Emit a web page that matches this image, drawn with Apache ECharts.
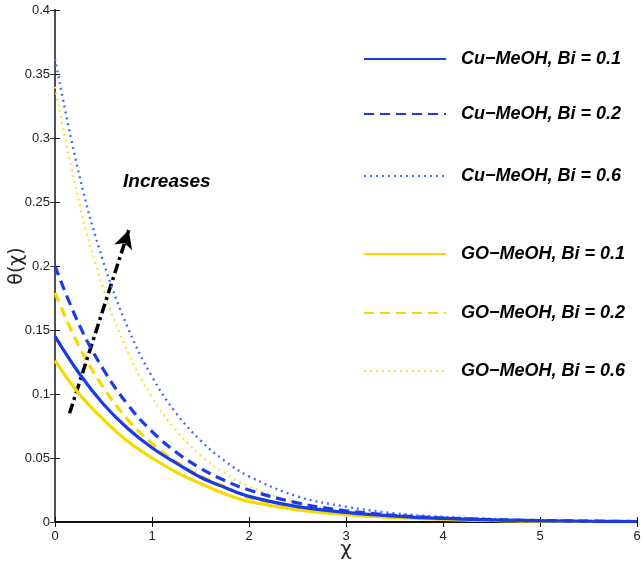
<!DOCTYPE html>
<html>
<head>
<meta charset="utf-8">
<script src="https://cdn.jsdelivr.net/npm/echarts@6/dist/echarts.min.js"></script>
<style>html,body{margin:0;padding:0;background:#fff;}#c{width:644px;height:574px;}</style>
</head>
<body>
<div id="c"></div>
<script>
var xs = [0, 0.25, 0.5, 0.75, 1, 1.25, 1.5, 1.75, 2, 2.5, 3, 3.5, 4, 4.5, 5, 5.5, 6];
var cuBi01 = [0.145, 0.116, 0.092, 0.073, 0.058, 0.046, 0.035, 0.027, 0.020, 0.012, 0.0075, 0.0046, 0.0028, 0.0017, 0.0010, 0.0006, 0.0004];
var cuBi02 = [0.200, 0.154, 0.119, 0.0917, 0.0707, 0.0545, 0.042, 0.0324, 0.025, 0.0149, 0.0088, 0.0052, 0.0031, 0.0019, 0.0011, 0.0007, 0.0004];
var cuBi06 = [0.362, 0.271, 0.203, 0.152, 0.1135, 0.085, 0.0637, 0.0477, 0.0357, 0.020, 0.012, 0.0068, 0.0040, 0.0024, 0.0014, 0.0009, 0.0005];
var goBi01 = [0.126, 0.100, 0.080, 0.063, 0.050, 0.039, 0.030, 0.022, 0.016, 0.0095, 0.0058, 0.0035, 0.0020, 0.0012, 0.0007, 0.0004, 0.0002];
var goBi02 = [0.179, 0.137, 0.105, 0.080, 0.0614, 0.047, 0.036, 0.0275, 0.019, 0.011, 0.0065, 0.0038, 0.0022, 0.0013, 0.0008, 0.0005, 0.0003];
var goBi06 = [0.340, 0.249, 0.182, 0.133, 0.0974, 0.0713, 0.0521, 0.0381, 0.0279, 0.0149, 0.0080, 0.0043, 0.0023, 0.0012, 0.0007, 0.0004, 0.0002];
var names = ['Cu\u2212MeOH, Bi = 0.1', 'Cu\u2212MeOH, Bi = 0.2', 'Cu\u2212MeOH, Bi = 0.6',
             'GO\u2212MeOH, Bi = 0.1', 'GO\u2212MeOH, Bi = 0.2', 'GO\u2212MeOH, Bi = 0.6'];
var arrowStart = [0.15, 0.085];
var arrowEnd = [0.76, 0.228];
var annotation = 'Increases';

function pairs(v) { return xs.map(function (x, i) { return [x, v[i]]; }); }

var BLUE = '#1a3ce8', BLUE_L = '#4d6cf5', YEL = '#f7d900', YEL_L = '#f9e640';
var styles = [
  {color: BLUE, width: 3.2, type: 'solid'},
  {color: BLUE, width: 3.2, type: [10, 6]},
  {color: BLUE_L, width: 2.4, type: [2, 4]},
  {color: YEL, width: 3.2, type: 'solid'},
  {color: YEL, width: 3.2, type: [10, 6]},
  {color: YEL_L, width: 2.4, type: [2, 4]}
];
var datas = [cuBi01, cuBi02, cuBi06, goBi01, goBi02, goBi06];

var series = datas.map(function (d, i) {
  return {
    name: names[i], type: 'line', data: pairs(d), smooth: 0.4, symbol: 'none',
    color: styles[i].color,
    lineStyle: {color: styles[i].color, width: styles[i].width, type: styles[i].type},
    z: 3 + (5 - i)
  };
});
series.push({
  type: 'line', data: [], silent: true,
  markLine: {
    silent: true, symbol: ['none', 'arrow'], symbolSize: [14, 18],
    label: {show: false},
    lineStyle: {color: '#000', width: 3.5, type: [10, 4, 3, 4]},
    data: [[{coord: arrowStart}, {coord: arrowEnd}]]
  }
});

var legendTops = [45, 100, 162, 240, 299, 357];
var legends = names.map(function (n, i) {
  return {
    data: [n], left: 358, top: legendTops[i], orient: 'vertical',
    itemWidth: 82, itemHeight: 18, selectedMode: false,
    itemStyle: {opacity: 0},
    textStyle: {fontFamily: 'Liberation Sans', fontSize: 18, fontWeight: 'bold', fontStyle: 'italic', color: '#000', padding: [0, 0, 0, 10]}
  };
});

var axisFont = {fontFamily: 'Liberation Sans', fontSize: 13, color: '#222'};
var chart = echarts.init(document.getElementById('c'), null, {renderer: 'canvas'});
chart.setOption({
  animation: false,
  backgroundColor: '#fff',
  grid: {left: 55, right: 7, top: 10, bottom: 52, containLabel: false, outerBoundsMode: 'none'},
  legend: legends,
  xAxis: [
    {type: 'value', min: 0, max: 6, interval: 1, position: 'bottom',
     name: '\u03c7', nameLocation: 'middle', nameGap: 18, nameMoveOverlap: false,
     nameTextStyle: {fontFamily: 'DejaVu Sans', fontSize: 20, color: '#222'},
     axisLine: {lineStyle: {color: '#111', width: 2}},
     axisTick: {inside: true, length: 5, lineStyle: {color: '#111'}},
     axisLabel: Object.assign({margin: 8}, axisFont),
     splitLine: {show: false}},
    {type: 'value', min: 0, max: 6, interval: 1, position: 'top',
     axisLine: {show: true, lineStyle: {color: '#111', width: 1.5}},
     axisTick: {inside: true, length: 5, lineStyle: {color: '#111'}},
     axisLabel: {show: false}, splitLine: {show: false}}
  ],
  yAxis: [
    {type: 'value', min: 0, max: 0.4, interval: 0.05, position: 'left',
     name: '\u03b8(\u03c7)', nameLocation: 'middle', nameGap: 28, nameRotate: 90, nameMoveOverlap: false,
     nameTextStyle: {fontFamily: 'DejaVu Sans', fontSize: 19, color: '#222'},
     axisLine: {show: true, lineStyle: {color: '#111', width: 2}},
     axisTick: {show: true, inside: true, length: 5, lineStyle: {color: '#111'}},
     axisLabel: Object.assign({margin: 5, formatter: function (v) { return String(+v.toFixed(2)); }}, axisFont),
     splitLine: {show: false}},
    {type: 'value', min: 0, max: 0.4, interval: 0.05, position: 'right',
     axisLine: {show: true, lineStyle: {color: '#666', width: 1.5}},
     axisTick: {show: true, inside: true, length: 5, lineStyle: {color: '#444'}},
     axisLabel: {show: false}, splitLine: {show: false}}
  ],
  graphic: [{
    type: 'text', left: 123, top: 172, silent: true,
    style: {text: annotation, fill: '#000', font: 'italic bold 19px "Liberation Sans"'}
  }],
  series: series
});
</script>
</body>
</html>
